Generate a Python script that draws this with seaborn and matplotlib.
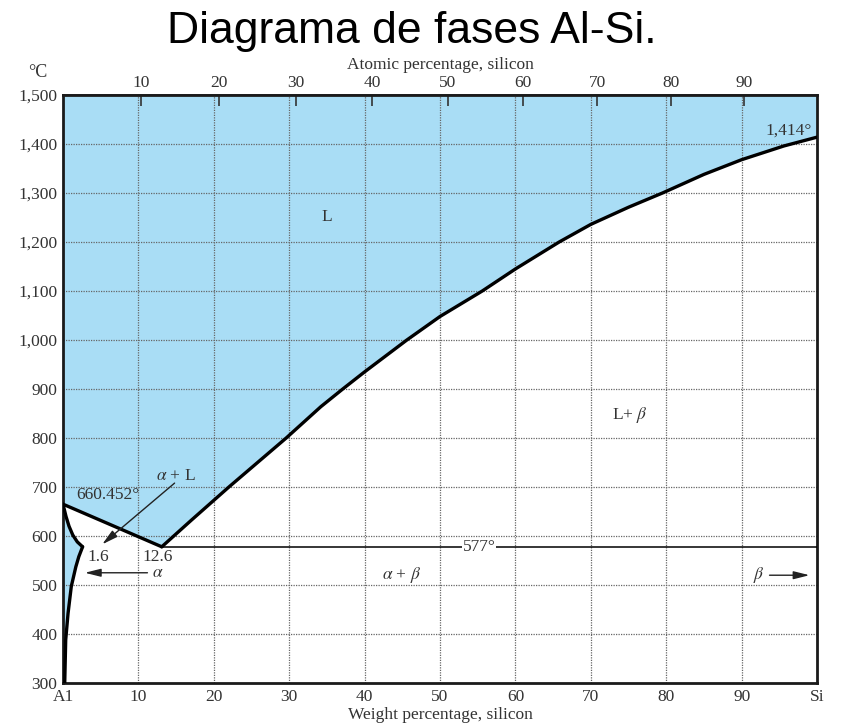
import numpy as np
import pandas as pd
import seaborn as sns
import matplotlib.pyplot as plt

# phase boundaries (wt% Si, deg C)
liq_al_wt = [0.0, 13.1]
liq_al_T = [665, 578]
liq_si_wt = [13.1, 17.0, 22.0, 29.6, 34.2, 37.1, 40.0, 45.6, 50.0, 55.6, 60.0,
             65.8, 70.0, 75.0, 79.5, 85.0, 90.0, 95.6, 100.0]
liq_si_T = [578, 632, 700, 800, 864, 900, 935, 1000, 1048, 1100, 1145,
            1200, 1236, 1271, 1300, 1338, 1368, 1396, 1414]
solidus_wt = [0.0, 0.4, 0.8, 1.3, 1.9, 2.6]
solidus_T = [665, 640, 620, 602, 588, 578]
solvus_wt = [2.6, 2.1, 1.7, 1.1, 0.67, 0.36, 0.23]
solvus_T = [578, 558, 537, 497, 442, 388, 300]
eutectic_wt = [13.1, 100.0]
eutectic_T = [577, 577]

temp_ticks = list(range(300, 1501, 100))
wt_ticks = list(range(0, 101, 10))
wt_labels = ['A1'] + [str(v) for v in range(10, 100, 10)] + ['Si']
at_ticks = list(range(10, 100, 10))

M_AL, M_SI = 26.98, 28.09


def wt2at(w):
    w = np.clip(np.asarray(w, dtype=float), 1e-9, 100 - 1e-9)
    a = w / M_SI
    b = (100 - w) / M_AL
    return 100 * a / (a + b)


def at2wt(a):
    a = np.clip(np.asarray(a, dtype=float), 1e-9, 100 - 1e-9)
    m = a * M_SI
    n = (100 - a) * M_AL
    return 100 * m / (m + n)


sns.set_theme(style='white')
plt.rcParams['font.family'] = ['Liberation Serif', 'DejaVu Serif']
plt.rcParams['mathtext.fontset'] = 'stix'

blue = '#a9ddf5'
txt = '#333333'

fig = plt.figure(figsize=(8.41, 7.27), dpi=100)
ax = fig.add_axes([0.0749, 0.0605, 0.8966, 0.8088])

# blue regions: liquid and alpha
lx = [0.0] + liq_al_wt + liq_si_wt[1:] + [100.0]
ly = [1500] + liq_al_T + liq_si_T[1:] + [1500]
ax.fill(lx, ly, color=blue, lw=0, zorder=0)
ax_ = solidus_wt + solvus_wt[1:] + [0.0]
ay_ = solidus_T + solvus_T[1:] + [300]
ax.fill(ax_, ay_, color=blue, lw=0, zorder=0)

# grid
for v in wt_ticks[1:-1]:
    ax.axvline(v, color='#666666', lw=0.9, ls=(0, (1, 1)), zorder=1)
for t in temp_ticks[1:-1]:
    ax.axhline(t, color='#666666', lw=0.9, ls=(0, (1, 1)), zorder=1)

lines = [(liq_al_wt, liq_al_T, 2.4), (liq_si_wt, liq_si_T, 2.4),
         (solidus_wt, solidus_T, 2.4), (solvus_wt, solvus_T, 2.4),
         (eutectic_wt, eutectic_T, 1.1)]
for xs, ys, w in lines:
    df = pd.DataFrame({'wt': xs, 'T': ys})
    sns.lineplot(data=df, x='wt', y='T', sort=False, estimator=None,
                 color='black', lw=w, ax=ax, zorder=3)

ax.set_xlim(0, 100)
ax.set_ylim(300, 1500)
ax.set_xticks(wt_ticks)
ax.set_xticklabels(wt_labels)
ax.set_yticks(temp_ticks)
ax.set_yticklabels([f'{t:,}' for t in temp_ticks])
ax.tick_params(axis='both', direction='in', length=7, width=1.2, color='#333333',
               labelsize=12.5, labelcolor=txt, pad=4)
ax.set_xlabel('Weight percentage, silicon', fontsize=12.5, color=txt, labelpad=2)
ax.set_ylabel('')
for s in ax.spines.values():
    s.set_color('#1a1a1a')
    s.set_linewidth(2)

sec = ax.secondary_xaxis('top', functions=(wt2at, at2wt))
sec.set_xticks(at_ticks)
sec.tick_params(direction='in', length=8, width=1.2, color='#333333',
                labelsize=12.5, labelcolor=txt, pad=3)
sec.set_xlabel('Atomic percentage, silicon', fontsize=12.5, color=txt, labelpad=4)

fig.text(0.045, 0.9, '°C', fontsize=13, color=txt, ha='center', va='center')
fig.text(0.49, 0.956, 'Diagrama de fases Al-Si.', fontsize=32, ha='center',
         va='center', family=['Liberation Sans', 'DejaVu Sans'], color='black')

# annotations
fs = 12.5
ax.text(35, 1251, 'L', fontsize=fs, color=txt, ha='center', va='center')
ax.text(75.2, 847, 'L+ $\\beta$', fontsize=fs, color=txt, ha='center', va='center')
ax.text(44.9, 520, '$\\alpha$ + $\\beta$', fontsize=fs, color=txt, ha='center', va='center')
ax.text(55.2, 577, '577°', fontsize=fs, color=txt, ha='center', va='center', zorder=4,
        bbox=dict(facecolor='white', edgecolor='none', pad=0.5))
ax.text(3.2, 557, '1.6', fontsize=fs, color=txt, ha='left', va='center')
ax.text(10.6, 557, '12.6', fontsize=fs, color=txt, ha='left', va='center')
ax.text(1.8, 684, '660.452°', fontsize=fs, color=txt, ha='left', va='center')
ax.text(15.0, 722, '$\\alpha$ + L', fontsize=fs, color=txt, ha='center', va='center')
arrow = dict(arrowstyle='-|>,head_length=0.8,head_width=0.2', color='#222222', lw=1.0,
             mutation_scale=12, shrinkA=0, shrinkB=0)
ax.annotate('', xy=(5.2, 583), xytext=(14.8, 708), arrowprops=arrow)
ax.text(12.6, 525, '$\\alpha$', fontsize=fs, color=txt, ha='center', va='center')
ax.annotate('', xy=(2.9, 525), xytext=(11.2, 525), arrowprops=arrow)
ax.text(92.3, 520, '$\\beta$', fontsize=fs, color=txt, ha='center', va='center')
ax.annotate('', xy=(99.0, 520), xytext=(93.7, 520), arrowprops=arrow)
ax.text(99.3, 1428, '1,414°', fontsize=fs, color=txt, ha='right', va='center')

fig.savefig('out.png', dpi=100)
